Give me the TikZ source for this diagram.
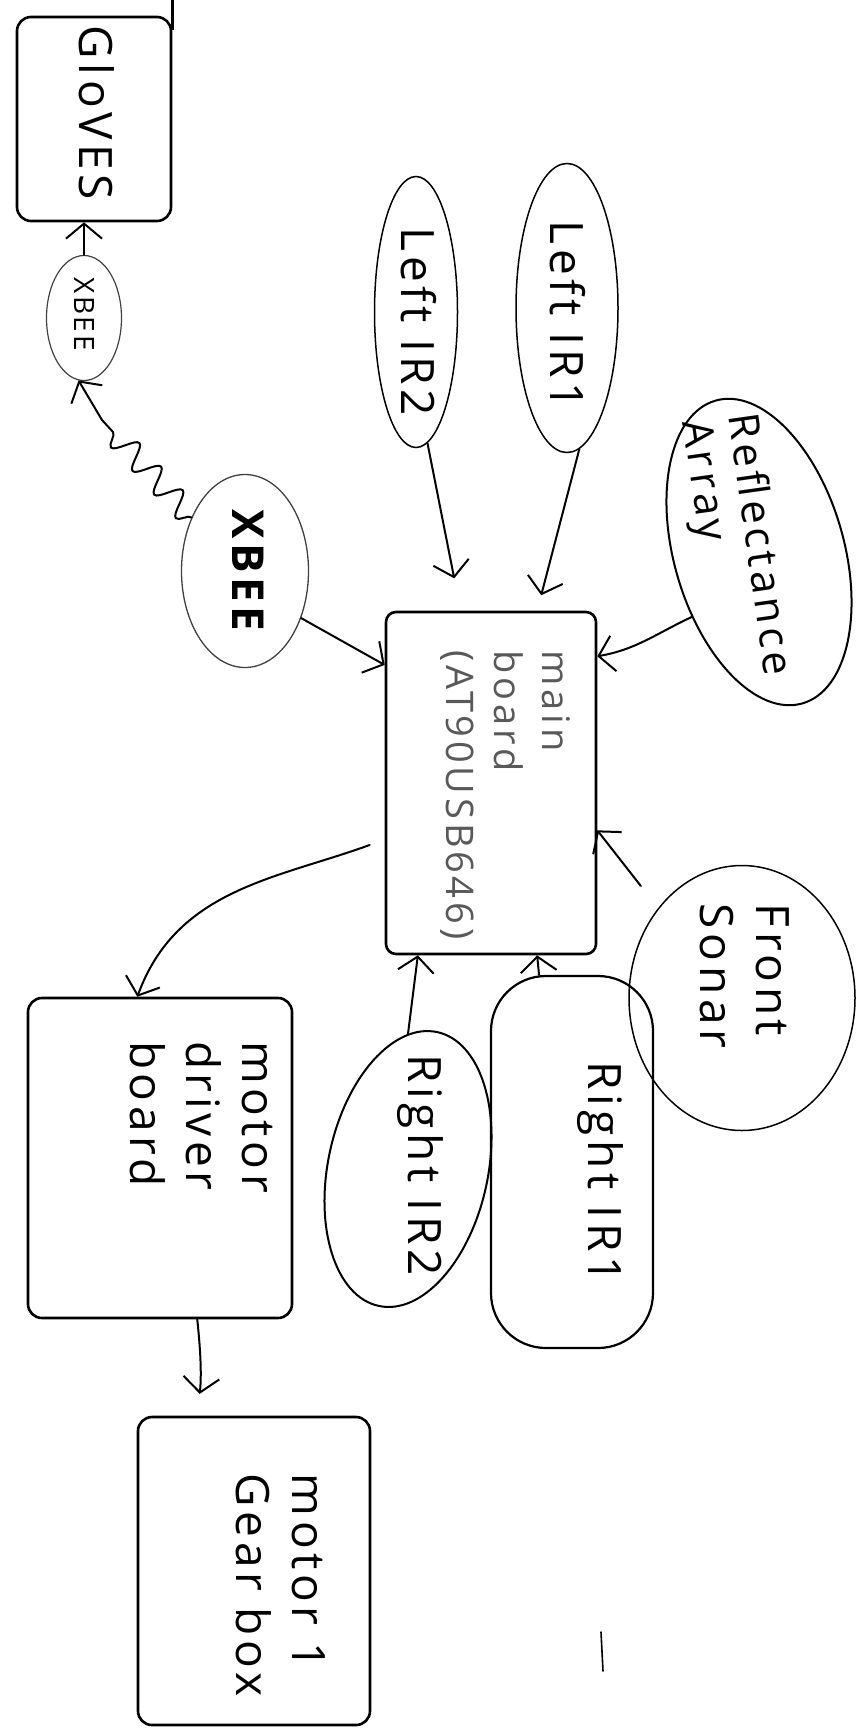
\documentclass[tikz,border=0pt]{standalone}
\usepackage{fontspec}
\newfontfamily\hand{Open Sans}[LetterSpace=10]
\usetikzlibrary{shapes.geometric,arrows.meta,decorations.pathmorphing,calc}
\begin{document}
\begin{tikzpicture}[x=1pt,y=-1pt,
  txt/.style={font=\hand\fontsize{46}{56}\selectfont, inner sep=0pt, rotate=-90},
  hbox/.style={draw, line width=2.6pt, rounded corners=14pt, inner sep=0pt},
  oval/.style={draw, ellipse, line width=1.5pt, inner sep=0pt},
  arr/.style={line width=2pt, line cap=round, -{Straight Barb[length=15pt,width=36pt,line width=2pt]}},
]
\useasboundingbox (0,0) rectangle (867,1729);
\coordinate (top) at (0,0);
\coordinate (zz) at (102,420);
% shapes
\node[hbox, minimum width=154, minimum height=204] (gloves) at (94,119) {};
\node[txt] (glovest) at (97,113) {GloVES};
\node[oval, line width=1.2pt, draw=black!75, minimum width=75, minimum height=125] (sx) at (84,318) {};
\node[txt, font=\hand\fontsize{28}{32}\selectfont] (sxt) at (84,314) {XBEE};
\node[oval, line width=1.3pt, draw=black!75, minimum width=127, minimum height=193] (bx) at (245,571) {};
\node[txt, font=\hand\bfseries\fontsize{44}{52}\selectfont] (bxt) at (248,570) {XBEE};
\node[hbox, rounded corners=10pt, minimum width=210, minimum height=342] (main) at (491,783) {};
\node[txt, font=\hand\fontsize{38}{48}\selectfont, text=black!65, align=left] (maint) at (505,795) {main\\board\\(AT90USB646)};
\node[oval, minimum width=83, minimum height=271] (l2) at (416,312) {};
\node[txt] (l2t) at (419,322) {Left IR2};
\node[oval, minimum width=102, minimum height=289] (l1) at (567,308) {};
\node[txt] (l1t) at (568,315) {Left IR1};
\node[oval, line width=2pt, rotate=-74, minimum width=315, minimum height=170] (refl) at (759,552) {};
\node[txt, rotate=8, align=left, font=\hand\fontsize{42}{46}\selectfont] (reflt) at (735,548) {Reflectance\\Array};
\node[oval, minimum width=226, minimum height=265] (sonar) at (742,998) {};
\node[txt, align=left] (sonart) at (745,976) {Front\\Sonar};
\node[hbox, line width=2.2pt, rounded corners=55pt, minimum width=162, minimum height=372] (r1) at (572,1162) {};
\node[txt] (r1t) at (600,1172) {Right IR1};
\node[oval, line width=2pt, rotate=78, minimum width=280, minimum height=160] (r2) at (408,1169) {};
\node[txt] (r2t) at (420,1165) {Right IR2};
\node[hbox, minimum width=264, minimum height=320] (md) at (160,1158) {};
\node[txt, align=left] (mdt) at (201,1117) {motor\\driver\\board};
\node[hbox, minimum width=232, minimum height=308] (mg) at (254,1571) {};
\node[txt, align=left] (mgt) at (281,1585) {motor 1\\Gear box};
% connectors
\draw[arr] (sx.north) -- (sx.north |- gloves.south);
\draw[arr] (bx.135) decorate[decoration={snake,amplitude=12pt,segment length=32pt}] {-- (zz)} -- (sx.265);
\draw[arr] (bx.320) -- (main.132);
\draw[arr, shorten >=33pt] (l2.275) -- (main.100);
\draw[arr, shorten >=16pt] (l1.275) -- (main.75);
\draw[arr] (refl.298) to[out=205,in=10] (main.50);
\draw[arr, shorten <=28pt] (sonar.133) -- (main.336);
\draw[arr] (r1.100) -- (main.285);
\draw[arr] (r2.12) -- (main.247);
\draw[arr, shorten <=16pt] (main.208) to[out=200,in=70] (md.98);
\draw[arr, shorten >=22pt] (md.283) to[bend left=6] (mg.110);
% stray strokes
\draw[line width=2.4pt] ($(gloves.north east)+(0,14)$) -- (gloves.north east |- top);
\draw[line width=1.6pt, line cap=round] (601,1632) -- (603,1671);
\end{tikzpicture}
\end{document}
